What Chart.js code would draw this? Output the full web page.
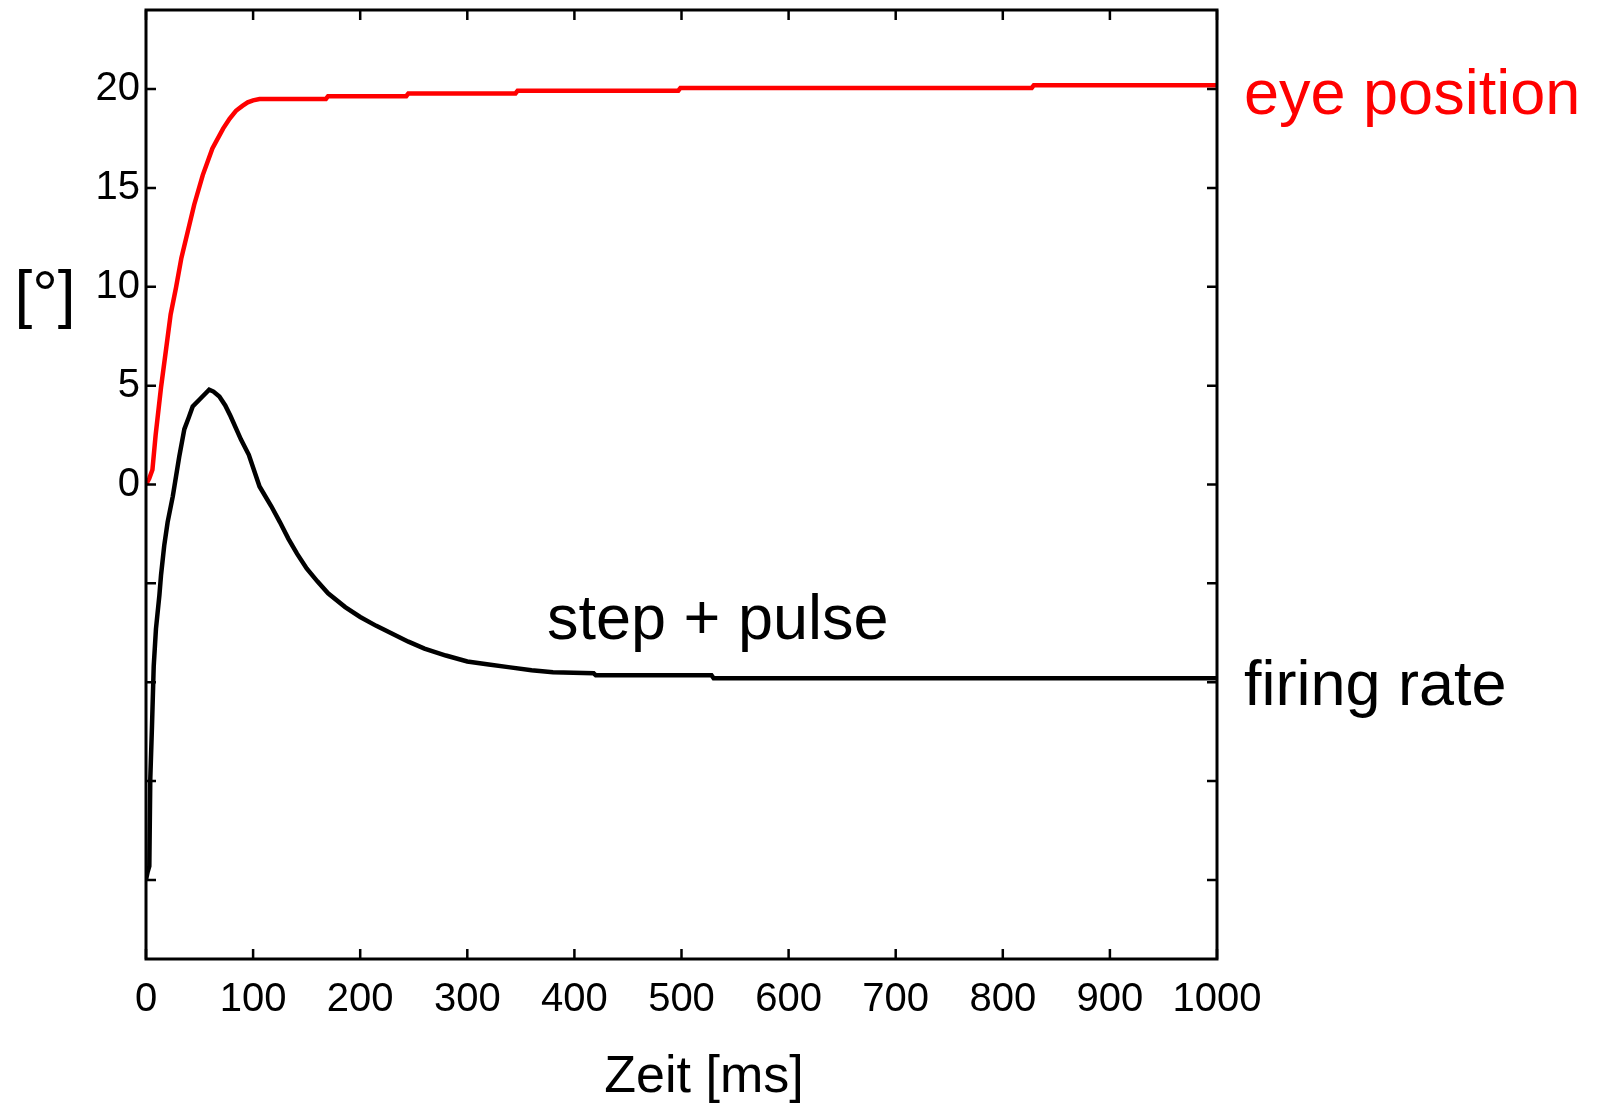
<!DOCTYPE html>
<html>
<head>
<meta charset="utf-8">
<script src="https://cdn.jsdelivr.net/npm/chart.js@4"></script>
<style>
  html, body { margin: 0; padding: 0; background: #fff; }
  #wrap { width: 1603px; height: 1107px; }
</style>
</head>
<body>
<div id="wrap"><canvas id="myChart" width="1603" height="1107"></canvas></div>
<script>
// Zeit in ms / Augenposition in Grad
var eyeTime = [0, 3, 6, 9, 14, 19, 23, 28, 33, 39, 45, 53, 62, 72, 78, 84, 90, 95, 100, 106, 168, 170, 243, 245, 345, 347, 497, 499, 827, 829, 1000];
var eyePos = [0, 0.3, 0.75, 2.5, 4.9, 6.95, 8.6, 9.95, 11.45, 12.8, 14.15, 15.65, 17.0, 18.0, 18.5, 18.9, 19.15, 19.33, 19.43, 19.5, 19.5, 19.64, 19.64, 19.78, 19.78, 19.92, 19.92, 20.06, 20.06, 20.2, 20.2];

// firing rate (step + pulse)
var rateTime = [0, 1.5, 3.1, 4, 5.6, 7.2, 9.3, 12.5, 14, 17, 20.2, 25, 28, 31, 35.8, 40, 43.6, 50, 59, 63, 68.5, 74, 79, 88.7, 96, 106, 117, 125, 133, 141, 150, 160, 170, 186, 200, 215, 230, 245, 260, 280, 300, 320, 340, 360, 380, 418, 420, 528, 530, 1000];
var rateVal = [-20, -19.6, -19.3, -14.9, -12.2, -9.2, -7.3, -5.6, -4.6, -3.1, -1.9, -0.6, 0.4, 1.4, 2.8, 3.4, 3.95, 4.3, 4.8, 4.7, 4.45, 4.0, 3.45, 2.27, 1.5, -0.1, -1.1, -1.9, -2.75, -3.5, -4.25, -4.9, -5.5, -6.2, -6.7, -7.15, -7.55, -7.95, -8.3, -8.65, -8.95, -9.1, -9.25, -9.4, -9.5, -9.55, -9.65, -9.65, -9.8, -9.8];

// Achsen
var xTicks = [0, 100, 200, 300, 400, 500, 600, 700, 800, 900, 1000];
var yTicks = [-20, -15, -10, -5, 0, 5, 10, 15, 20];

function points(xs, ys) {
  return xs.map(function (x, i) { return { x: x, y: ys[i] }; });
}

var FONT = "'Liberation Sans', Arial, sans-serif";

// Rahmen, Ticks nach innen und Beschriftungen
var framePlugin = {
  id: 'frame',
  afterDraw: function (chart) {
    var ctx = chart.ctx;
    var a = chart.chartArea;
    var sx = chart.scales.x, sy = chart.scales.y;
    ctx.save();
    ctx.strokeStyle = '#000';
    ctx.lineWidth = 2.5;
    ctx.beginPath();
    xTicks.forEach(function (v) {
      var px = sx.getPixelForValue(v);
      ctx.moveTo(px, a.bottom); ctx.lineTo(px, a.bottom - 10);
      ctx.moveTo(px, a.top); ctx.lineTo(px, a.top + 10);
    });
    yTicks.forEach(function (v) {
      var py = sy.getPixelForValue(v);
      ctx.moveTo(a.left, py); ctx.lineTo(a.left + 10, py);
      ctx.moveTo(a.right, py); ctx.lineTo(a.right - 10, py);
    });
    ctx.stroke();
    ctx.lineWidth = 3;
    ctx.strokeRect(a.left, a.top, a.right - a.left, a.bottom - a.top);

    ctx.textBaseline = 'alphabetic';
    ctx.textAlign = 'left';
    ctx.font = '63px ' + FONT;
    ctx.fillStyle = '#ff0000';
    ctx.fillText('eye position', 1244, 114);
    ctx.fillStyle = '#000';
    ctx.fillText('firing rate', 1244, 705);
    ctx.fillText('step + pulse', 547, 639);

    ctx.textAlign = 'center';
    ctx.font = '52px ' + FONT;
    ctx.fillText('Zeit [ms]', 704, 1092);
    ctx.font = '64px ' + FONT;
    ctx.fillText('[°]', 45, 316);
    ctx.restore();
  }
};

var ctx = document.getElementById('myChart').getContext('2d');
var myChart = new Chart(ctx, {
  type: 'line',
  data: {
    datasets: [{
      label: 'eye position',
      data: points(eyeTime, eyePos),
      borderColor: '#ff0000',
      borderWidth: 4.5,
      pointRadius: 0,
      tension: 0
    }, {
      label: 'firing rate',
      data: points(rateTime, rateVal),
      borderColor: '#000000',
      borderWidth: 4.5,
      pointRadius: 0,
      tension: 0
    }]
  },
  options: {
    responsive: false,
    animation: false,
    layout: { padding: { left: 0, top: 10, right: 386, bottom: 0 } },
    plugins: {
      legend: { display: false },
      tooltip: { enabled: false }
    },
    scales: {
      x: {
        type: 'linear',
        min: 0,
        max: 1000,
        afterBuildTicks: function (scale) {
          scale.ticks = xTicks.map(function (v) { return { value: v }; });
        },
        afterFit: function (scale) {
          scale.height = 148;
          scale.paddingLeft = 0;
          scale.paddingRight = 0;
        },
        grid: { display: false, drawTicks: false },
        border: { display: false },
        ticks: {
          maxRotation: 0,
          autoSkip: false,
          padding: 17,
          color: '#000',
          font: { family: FONT, size: 40 },
          callback: function (v) { return String(v); }
        }
      },
      y: {
        type: 'linear',
        min: -24,
        max: 24,
        afterBuildTicks: function (scale) {
          scale.ticks = yTicks.map(function (v) { return { value: v }; });
        },
        afterFit: function (scale) {
          scale.width = 146;
          scale.paddingTop = 0;
          scale.paddingBottom = 0;
        },
        grid: { display: false, drawTicks: false },
        border: { display: false },
        ticks: {
          padding: 6,
          color: '#000',
          font: { family: FONT, size: 40 },
          callback: function (v) { return v >= 0 ? String(v) : ''; }
        }
      }
    }
  },
  plugins: [framePlugin]
});
</script>
</body>
</html>
